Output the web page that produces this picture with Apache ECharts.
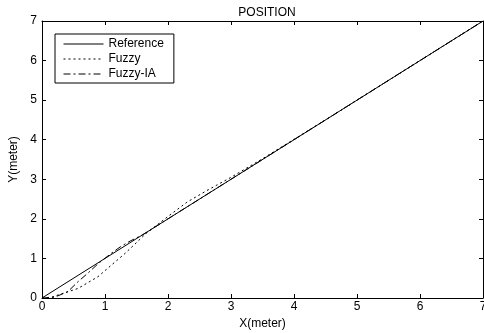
<!DOCTYPE html>
<html><head><meta charset="utf-8">
<script src="https://cdn.jsdelivr.net/npm/echarts@6/dist/echarts.min.js"></script>
<style>html,body{margin:0;padding:0;background:#fff}#c{width:484px;height:333px}</style>
</head><body><div id="c"></div>
<script>
var seriesNames = ['Reference', 'Fuzzy', 'Fuzzy-IA'];
var referenceX = [0, 7];
var referenceY = [0, 7];
var fuzzyX = [0, 0.15, 0.3, 0.57, 0.89, 1.1, 1.3, 1.5, 1.65, 2.0, 2.3, 2.6, 3.0, 3.5, 4.5, 7];
var fuzzyY = [0, 0.02, 0.1, 0.24, 0.54, 0.83, 1.1, 1.4, 1.63, 2.06, 2.42, 2.7, 3.05, 3.52, 4.5, 7];
var fuzzyIAX = [0, 0.2, 0.41, 0.57, 0.73, 0.9, 1.1, 1.25, 1.4, 1.6, 2.0, 3.0, 7];
var fuzzyIAY = [0, 0.02, 0.16, 0.41, 0.63, 0.88, 1.13, 1.3, 1.44, 1.6, 2.0, 3.0, 7];
var xTicks = [0, 1, 2, 3, 4, 5, 6, 7];
var yTicks = [0, 1, 2, 3, 4, 5, 6, 7];

function pairs(xs, ys) { return xs.map(function (x, i) { return [x, ys[i]]; }); }

var font = 'Liberation Sans, Arial, sans-serif';
var chart = echarts.init(document.getElementById('c'));
var axisCommon = {
  type: 'value', min: xTicks[0], max: xTicks[xTicks.length - 1], interval: 1,
  axisLine: { show: true, onZero: false, lineStyle: { color: '#000', width: 1 } },
  axisTick: { show: true, inside: true, length: 4, lineStyle: { color: '#000' } },
  splitLine: { show: false }
};
chart.setOption({
  animation: false,
  backgroundColor: '#fff',
  title: { text: 'POSITION', left: 262, top: 2, textAlign: 'center',
    textStyle: { fontFamily: font, fontSize: 12, fontWeight: 'normal', color: '#000' } },
  grid: { left: 42, right: 1, top: 21, bottom: 35, outerBoundsMode: 'none', containLabel: false },
  legend: {
    orient: 'vertical', left: 55, top: 34,
    padding: [4, 10, 3, 8], itemGap: 3, itemWidth: 40, itemHeight: 12,
    borderColor: '#000', borderWidth: 1, backgroundColor: '#fff',
    itemStyle: { opacity: 0 },
    lineStyle: { width: 1 },
    textStyle: { fontFamily: font, fontSize: 12, color: '#000' },
    data: seriesNames
  },
  xAxis: [
    Object.assign({}, axisCommon, { position: 'bottom', name: 'X(meter)', nameLocation: 'middle', nameGap: 16,
      nameTextStyle: { fontFamily: font, fontSize: 12, color: '#000' },
      axisLabel: { fontFamily: font, fontSize: 12, color: '#000', margin: 3 } }),
    Object.assign({}, axisCommon, { position: 'top', axisLabel: { show: false } })
  ],
  yAxis: [
    Object.assign({}, axisCommon, { min: yTicks[0], max: yTicks[yTicks.length - 1], position: 'left', name: 'Y(meter)', nameLocation: 'middle', nameGap: 17,
      nameTextStyle: { fontFamily: font, fontSize: 12, color: '#000' },
      axisLabel: { fontFamily: font, fontSize: 12, color: '#000', margin: 5 } }),
    Object.assign({}, axisCommon, { min: yTicks[0], max: yTicks[yTicks.length - 1], position: 'right', axisLabel: { show: false } })
  ],
  series: [
    { name: seriesNames[0], type: 'line', data: pairs(referenceX, referenceY), symbol: 'none',
      lineStyle: { color: '#000', width: 1, type: 'solid' }, itemStyle: { color: '#000' } },
    { name: seriesNames[1], type: 'line', data: pairs(fuzzyX, fuzzyY), symbol: 'none',
      lineStyle: { color: '#000', width: 1, type: [2, 3] }, itemStyle: { color: '#000' } },
    { name: seriesNames[2], type: 'line', data: pairs(fuzzyIAX, fuzzyIAY), symbol: 'none',
      lineStyle: { color: '#000', width: 1, type: [7, 3, 2, 3] }, itemStyle: { color: '#000' } }
  ]
});
</script></body></html>
